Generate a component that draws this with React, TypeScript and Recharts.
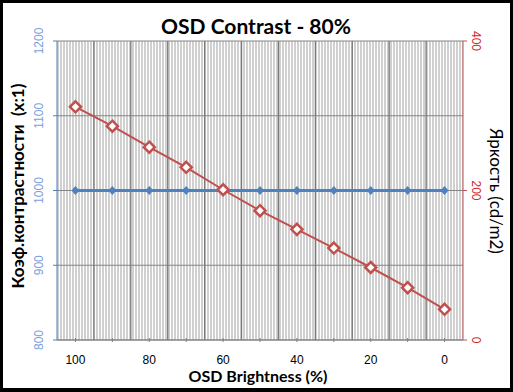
import { ComposedChart, Line, XAxis, YAxis, CartesianGrid, ReferenceLine } from "recharts"

const brightness = [100, 90, 80, 70, 60, 50, 40, 30, 20, 10, 0]
const contrast = [1000, 1000, 1000, 1000, 1000, 1000, 1000, 1000, 1000, 1000, 1000]
const luminance = [312, 286, 258, 231, 201, 173, 148, 123, 97, 70, 41]
const bandEdges = [95, 85, 75, 65, 55, 45, 35, 25, 15, 5]
const labelledBrightness = [100, 80, 60, 40, 20, 0]
const leftTicks = [800, 900, 1000, 1100, 1200]
const rightTicks = [0, 200, 400]

const data = brightness.map((b, i) => ({ b, contrast: contrast[i], lum: luminance[i] }))

const BLUE = "#4f81bd"
const RED = "#c0504d"
const FONT = "Lato, 'Open Sans', sans-serif"

const LeftTick = (p: any) => {
  const x = p.x - 8
  return (
    <text x={x} y={p.y} transform={`rotate(-90, ${x}, ${p.y})`} textAnchor="middle"
      fill="#7aa0dc" fontSize={12} fontFamily="'Liberation Sans', sans-serif">
      {p.payload.value}
    </text>
  )
}

const RightTick = (p: any) => {
  const x = p.x + 3
  return (
    <text x={x} y={p.y} transform={`rotate(90, ${x}, ${p.y})`} textAnchor="middle"
      fill="#d02828" fontSize={12} fontFamily="'Liberation Sans', sans-serif">
      {p.payload.value}
    </text>
  )
}

const XTick = (p: any) => (
  <g>
    <line x1={p.x} x2={p.x} y1={p.y - 4} y2={p.y} stroke="#808080" />
    {labelledBrightness.includes(p.payload.value) && (
      <text x={p.x} y={p.y + 22} textAnchor="middle" fill="#000" fontSize={12}
        fontFamily="'Liberation Sans', sans-serif">
        {p.payload.value}
      </text>
    )}
  </g>
)

const SmallDiamond = (p: any) => {
  const { cx, cy } = p
  if (cx == null || cy == null) return null
  return <path d={`M${cx},${cy - 4.5}L${cx + 4},${cy}L${cx},${cy + 4.5}L${cx - 4},${cy}Z`} fill={BLUE} />
}

const HollowDiamond = (p: any) => {
  const { cx, cy } = p
  if (cx == null || cy == null) return null
  return (
    <path d={`M${cx},${cy - 5.5}L${cx + 5.5},${cy}L${cx},${cy + 5.5}L${cx - 5.5},${cy}Z`}
      fill="#fff" stroke={RED} strokeWidth={2.5} />
  )
}

export default function App() {
  return (
    <div style={{ position: "absolute", left: 0, top: 0, width: 513, height: 392, background: "#fff" }}>
      <ComposedChart width={513} height={392} data={data} margin={{ top: 41, right: 0, bottom: 0, left: 0 }}>
        <defs>
          <pattern id="stripes" x={0} y={0} width={3} height={10} patternUnits="userSpaceOnUse">
            <rect x={0} y={0} width={3} height={10} fill="#fff" />
            <rect x={0} y={0} width={2} height={10} fill="#d0d0d0" />
          </pattern>
        </defs>
        <CartesianGrid yAxisId="left" vertical={false} stroke="#858585" fill="url(#stripes)" fillOpacity={1} />
        <XAxis dataKey="b" type="number" domain={[-5, 105]} reversed ticks={brightness}
          height={52} tickSize={0} stroke="#808080" tick={<XTick />} interval={0} />
        <YAxis yAxisId="left" domain={[800, 1200]} ticks={leftTicks} width={57}
          stroke={BLUE} tickSize={4} tick={<LeftTick />} interval={0} />
        <YAxis yAxisId="right" orientation="right" domain={[0, 400]} ticks={rightTicks} width={50}
          stroke={RED} tickSize={4} tick={<RightTick />} interval={0} />
        {bandEdges.map((e) => (
          <ReferenceLine key={e} x={e} yAxisId="left" stroke="#7a7a7a" strokeWidth={1.3} />
        ))}
        <Line yAxisId="left" dataKey="contrast" stroke={BLUE} strokeWidth={3}
          dot={<SmallDiamond />} isAnimationActive={false} />
        <Line yAxisId="right" dataKey="lum" stroke={RED} strokeWidth={2}
          dot={<HollowDiamond />} isAnimationActive={false} />
        <text x={256} y={34} textAnchor="middle" fontFamily={FONT} fontWeight="bold" fontSize={21} fill="#000">
          OSD Contrast - 80%
        </text>
        <text x={258} y={382} textAnchor="middle" fontFamily={FONT} fontWeight="bold" fontSize={16} fill="#000">
          OSD Brightness (%)
        </text>
        <text x={24} y={186} transform="rotate(-90, 24, 186)" textAnchor="middle" fontFamily={FONT}
          fontWeight="bold" fontSize={17} fill="#000">
          {"Коэф.контрастности\u00a0\u00a0(x:1)"}
        </text>
        <text x={490} y={191} transform="rotate(90, 490, 191)" textAnchor="middle" fontFamily={FONT}
          fontSize={17} fill="#000">
          Яркость (cd/m2)
        </text>
      </ComposedChart>
      <div style={{ position: "absolute", inset: 0, border: "3px solid #000", borderBottomWidth: 4, pointerEvents: "none" }} />
    </div>
  )
}
